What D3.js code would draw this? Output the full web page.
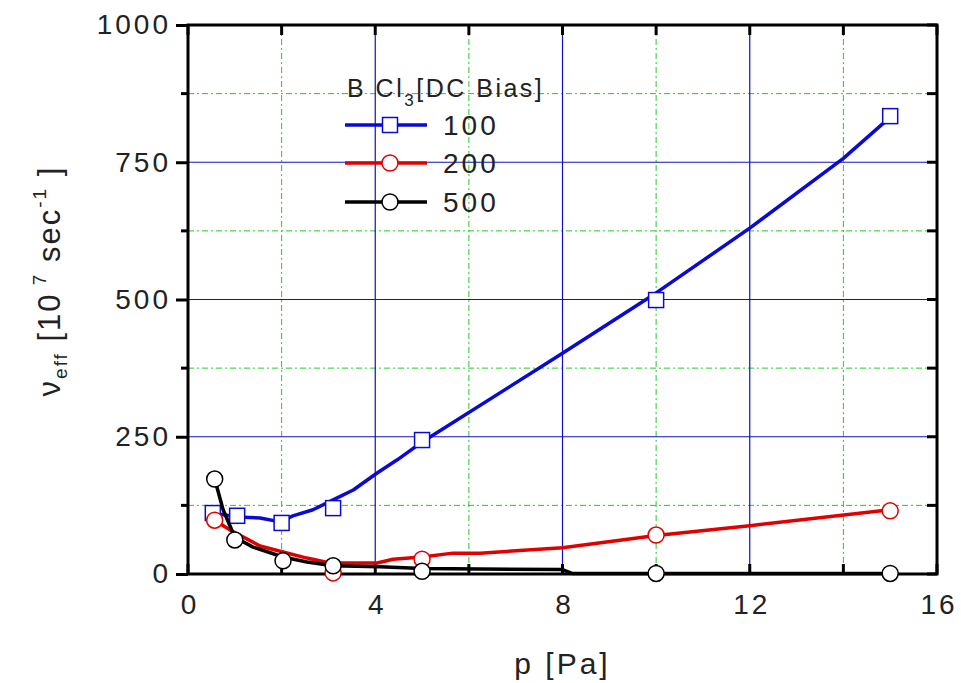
<!DOCTYPE html>
<html>
<head>
<meta charset="utf-8">
<script src="https://cdn.jsdelivr.net/npm/d3@7"></script>
<style>
  body { margin: 0; background: #fff; }
  text { font-family: "Liberation Sans", Arial, sans-serif; }
</style>
</head>
<body>
<svg id="chart" width="961" height="683"></svg>
<script>
// values
const biasLabels = ['100', '200', '500']
const colors = ['#0a0ad2', '#e00000', '#000000']
const shapes = ['square', 'circle', 'circle']

const p100 = [0.53, 1.05, 2.0, 3.1, 5.0, 10.0, 15.0]
const v100 = [111, 106, 93, 120, 244, 499, 834]
const p200 = [0.57, 3.1, 5.0, 10.0, 15.0]
const v200 = [98, 2, 27, 71, 115]
const p500 = [0.57, 1.0, 2.03, 3.1, 5.0, 10.0, 15.0]
const v500 = [173, 62, 24, 15, 5, 1, 1]

// fitted curves drawn through the markers
const fitP100 = [0.53, 1.05, 1.54, 1.97, 2.24, 2.67, 3.1, 3.53, 4.04, 4.47, 4.96, 8, 10, 12, 14, 14.96]
const fitV100 = [111, 104, 102, 95, 106, 117, 135, 153, 184, 208, 238, 402, 512, 630, 757, 829]
const fitP200 = [0.57, 0.9, 1.54, 2.03, 2.54, 3.03, 4.04, 4.38, 5.0, 5.66, 6.24, 8, 10, 12, 15]
const fitV200 = [98, 80, 51, 40, 29, 20, 20, 27, 31, 38, 38, 48, 70, 88, 117]
const fitP500 = [0.57, 0.75, 1.0, 1.39, 2.03, 2.54, 3.1, 4.1, 5, 8, 8.2, 10, 15]
const fitV500 = [173, 117, 67, 49, 31, 22, 15, 13, 10, 8, 1, 1, 1]

const xTicks = [0, 4, 8, 12, 16]
const xMinor = [2, 6, 10, 14]
const yTicks = [0, 250, 500, 750, 1000]
const yMinor = [125, 375, 625, 875]

const pts = [p100, p200, p500]
const vals = [v100, v200, v500]
const fitPs = [fitP100, fitP200, fitP500]
const fitVs = [fitV100, fitV200, fitV500]

const svg = d3.select('#chart')
const plotLeft = 188
const plotRight = 937
const plotTop = 25
const plotBottom = 574

const x = d3.scaleLinear().domain([0, 16]).range([plotLeft, plotRight])
const y = d3.scaleLinear().domain([0, 1000]).range([plotBottom, plotTop])

// grid
const grid = svg.append('g')
grid.selectAll('.gx-minor').data(xMinor).join('line')
  .attr('x1', d => x(d)).attr('x2', d => x(d)).attr('y1', plotTop).attr('y2', plotBottom)
  .attr('stroke', '#22cc22').attr('stroke-width', 1).attr('stroke-dasharray', '6,3,2,3')
grid.selectAll('.gy-minor').data(yMinor).join('line')
  .attr('x1', plotLeft).attr('x2', plotRight).attr('y1', d => y(d)).attr('y2', d => y(d))
  .attr('stroke', '#22cc22').attr('stroke-width', 1).attr('stroke-dasharray', '6,3,2,3')
grid.selectAll('.gx').data(xTicks.slice(1, -1)).join('line')
  .attr('x1', d => x(d)).attr('x2', d => x(d)).attr('y1', plotTop).attr('y2', plotBottom)
  .attr('stroke', '#1010c0').attr('stroke-width', 1.2)
grid.selectAll('.gy').data(yTicks.slice(1, -1)).join('line')
  .attr('x1', plotLeft).attr('x2', plotRight).attr('y1', d => y(d)).attr('y2', d => y(d))
  .attr('stroke', '#1010c0').attr('stroke-width', 1.2)

// axes
const xAxis = svg.append('g')
  .attr('transform', `translate(0,${plotBottom})`)
  .call(d3.axisBottom(x).tickValues(xTicks).tickSize(0).tickPadding(20).tickFormat(d3.format('d')))
const yAxis = svg.append('g')
  .attr('transform', `translate(${plotLeft},0)`)
  .call(d3.axisLeft(y).tickValues(yTicks).tickSize(12).tickPadding(5).tickFormat(d3.format('d')))

for (const ax of [xAxis, yAxis]) {
  ax.select('.domain').remove()
  ax.selectAll('text')
    .style('font-size', '28px')
    .style('letter-spacing', '3px')
    .style('font-family', '"Liberation Sans", Arial, sans-serif')
    .attr('fill', '#222')
  ax.selectAll('line').attr('stroke', '#000').attr('stroke-width', 3)
}
xAxis.selectAll('text').attr('dx', 1.5)

const ticks = svg.append('g').attr('stroke', '#000').attr('stroke-width', 3)
ticks.selectAll('.bt').data(xTicks.concat(xMinor)).join('line')
  .attr('x1', d => x(d)).attr('x2', d => x(d)).attr('y1', plotBottom).attr('y2', plotBottom - 10)
ticks.selectAll('.tt').data(xTicks.concat(xMinor)).join('line')
  .attr('x1', d => x(d)).attr('x2', d => x(d)).attr('y1', plotTop).attr('y2', plotTop + 10)
ticks.selectAll('.rt').data(yTicks.concat(yMinor)).join('line')
  .attr('x1', plotRight).attr('x2', plotRight - 10).attr('y1', d => y(d)).attr('y2', d => y(d))
ticks.selectAll('.lm').data(yMinor).join('line')
  .attr('x1', plotLeft).attr('x2', plotLeft - 7).attr('y1', d => y(d)).attr('y2', d => y(d))

svg.append('rect')
  .attr('x', plotLeft).attr('y', plotTop).attr('width', plotRight - plotLeft).attr('height', plotBottom - plotTop)
  .attr('fill', 'none').attr('stroke', '#000').attr('stroke-width', 3)

// axis titles
svg.append('text')
  .attr('x', x(8)).attr('y', 674).attr('text-anchor', 'middle')
  .style('font-size', '30px').style('letter-spacing', '3px').attr('fill', '#222')
  .text('p [Pa]')

const yl = svg.append('text')
  .attr('transform', 'translate(60,281) rotate(-90)')
  .attr('text-anchor', 'middle')
  .style('font-size', '31px').style('letter-spacing', '2px').attr('fill', '#222')
yl.append('tspan').text('ν')
yl.append('tspan').attr('dy', 7).style('font-size', '19px').text('eff')
yl.append('tspan').attr('dy', -7).text(' [10')
yl.append('tspan').attr('dy', -14).style('font-size', '19px').text(' 7')
yl.append('tspan').attr('dy', 14).text(' sec')
yl.append('tspan').attr('dy', -14).style('font-size', '19px').text('-1')
yl.append('tspan').attr('dy', 14).text(' ]')

// series
const line = d3.line().x(d => x(d[0])).y(d => y(d[1]))

function marker (g, shape, color, cx, cy) {
  if (shape === 'square') {
    g.append('rect')
      .attr('x', cx - 7.5).attr('y', cy - 7.5).attr('width', 15).attr('height', 15)
      .attr('fill', '#fff').attr('stroke', color).attr('stroke-width', 1.5)
  } else {
    g.append('circle')
      .attr('cx', cx).attr('cy', cy).attr('r', 8)
      .attr('fill', '#fff').attr('stroke', color).attr('stroke-width', 1.5)
  }
}

biasLabels.forEach((b, i) => {
  const g = svg.append('g')
  const fit = d3.zip(fitPs[i], fitVs[i])
  g.append('path')
    .datum(fit)
    .attr('d', line)
    .attr('fill', 'none')
    .attr('stroke', colors[i])
    .attr('stroke-width', 3.5)
    .attr('stroke-linejoin', 'round')
  d3.zip(pts[i], vals[i]).forEach(d => marker(g, shapes[i], colors[i], x(d[0]), y(d[1])))
})

// legend
const legend = svg.append('g')
const lt = legend.append('text').attr('x', 347).attr('y', 97)
  .style('font-size', '25px').style('letter-spacing', '2.5px').attr('fill', '#222')
lt.append('tspan').text('B Cl')
lt.append('tspan').attr('dy', 9).style('font-size', '17px').text('3')
lt.append('tspan').attr('dy', -9).text('[DC Bias]')

const legendY = [125, 163, 202]
biasLabels.forEach((b, i) => {
  legend.append('line')
    .attr('x1', 345).attr('x2', 427).attr('y1', legendY[i]).attr('y2', legendY[i])
    .attr('stroke', colors[i]).attr('stroke-width', 3.5)
  marker(legend, shapes[i], colors[i], 390, legendY[i])
  legend.append('text')
    .attr('x', 443).attr('y', legendY[i] + 10)
    .style('font-size', '28px').style('letter-spacing', '3px').attr('fill', '#222')
    .text(b)
})
</script>
</body>
</html>
